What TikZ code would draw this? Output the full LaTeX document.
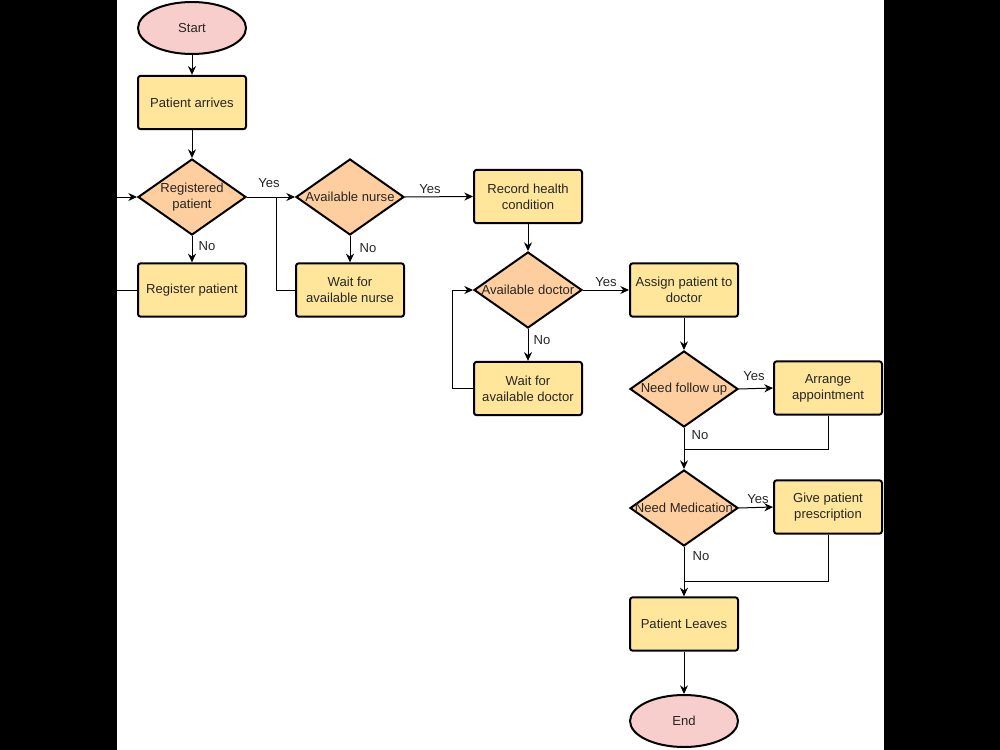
\documentclass[tikz,border=0pt]{standalone}
\usepackage{fontspec}
\setmainfont{Liberation Sans}
\usetikzlibrary{shapes.geometric,arrows.meta}

\definecolor{endpink}{RGB}{248,206,204}
\definecolor{stepyellow}{RGB}{255,230,155}
\definecolor{askorange}{RGB}{255,206,158}

\tikzset{
  txt/.style={font=\fontsize{9.8}{12}\selectfont, text=black!85},
  terminal/.style={ellipse, draw, line width=1.5pt, fill=endpink, minimum width=81pt, minimum height=39pt, inner sep=0pt, txt},
  stepbox/.style={rectangle, rounded corners=2pt, draw, line width=1.5pt, fill=stepyellow, minimum width=81pt, minimum height=40pt, inner sep=0pt, align=center, txt},
  decision/.style={diamond, draw, line width=1.5pt, fill=askorange, minimum width=81pt, minimum height=57pt, inner sep=0pt, label={[txt, align=center]center:#1}},
  flow/.style={-{Stealth[length=6.5pt,width=6pt]}, line width=0.75pt},
  joint/.style={line width=0.75pt},
  answer/.style={txt, inner sep=0.75pt}
}

\begin{document}
\begin{tikzpicture}[x=0.75pt,y=0.75pt,yscale=-1,xscale=1]
\useasboundingbox (0,0) rectangle (1000,750);
\fill[black] (0,0) rectangle (1000,750);
\fill[white] (117,0) rectangle (884,750);

%Terminals and steps
\node[terminal] (start) at (192,28) {Start};
\node[stepbox] (arrive) at (192,102.5) {Patient arrives};
\node[decision={Registered\\patient}] (regq) at (192,197) {};
\node[stepbox] (register) at (192,290) {Register patient};
\node[decision={Available nurse}] (nurseq) at (350,197) {};
\node[stepbox] (waitnurse) at (350,290) {Wait for\\available nurse};
\node[stepbox] (record) at (528,196.5) {Record health\\condition};
\node[decision={Available doctor}] (doctorq) at (528,290) {};
\node[stepbox] (waitdoctor) at (528,388.5) {Wait for\\available doctor};
\node[stepbox] (assign) at (684,290) {Assign patient to\\doctor};
\node[decision={Need follow up}] (followq) at (684,389) {};
\node[stepbox] (appoint) at (828,388) {Arrange\\appointment};
\node[decision={Need Medication}] (medq) at (684,508) {};
\node[stepbox] (prescribe) at (828,507) {Give patient\\prescription};
\node[stepbox] (leave) at (684,624) {Patient Leaves};
\node[terminal] (end) at (684,721) {End};

%Join points
\coordinate (nursejoin) at (276,197);
\coordinate (followjoin) at (684,449);
\coordinate (medjoin) at (684,581);

%Connectors
\draw[flow] (start) -- (arrive);
\draw[flow] (arrive) -- (regq);
\draw[flow] (regq.east) -- (nurseq.west);
\draw[flow] (regq.south) -- (register.north);
\draw[flow] (register.west) -- ++(-30,0) |- (regq.west);
\draw[flow] (nurseq.south) -- (waitnurse.north);
\draw[joint] (waitnurse.west) -| (nursejoin);
\draw[flow] (nurseq.east) -- (record.west);
\draw[flow] (record) -- (doctorq);
\draw[flow] (doctorq.east) -- (assign.west);
\draw[flow] (doctorq.south) -- (waitdoctor.north);
\draw[flow] (waitdoctor.west) -- ++(-21,0) |- (doctorq.west);
\draw[flow] (assign) -- (followq);
\draw[flow] (followq.east) -- (appoint.west);
\draw[flow] (followq.south) -- (medq.north);
\draw[joint] (appoint.south) |- (followjoin);
\draw[flow] (medq.east) -- (prescribe.west);
\draw[flow] (medq.south) -- (leave.north);
\draw[joint] (prescribe.south) |- (medjoin);
\draw[flow] (leave) -- (end);

%Answers
\node[answer] (yes1) at (269,183) {Yes};
\node[answer] (no1) at (207,246) {No};
\node[answer] (no2) at (368,248) {No};
\node[answer] (yes2) at (430,189) {Yes};
\node[answer] (yes3) at (606,282) {Yes};
\node[answer] (no3) at (542,340) {No};
\node[answer] (yes4) at (754,376) {Yes};
\node[answer] (no4) at (700,435) {No};
\node[answer] (yes5) at (758,499) {Yes};
\node[answer] (no5) at (701,556) {No};

%Side margins
\fill[black] (0,0) rectangle (117,750);
\fill[black] (884,0) rectangle (1000,750);
\end{tikzpicture}
\end{document}
